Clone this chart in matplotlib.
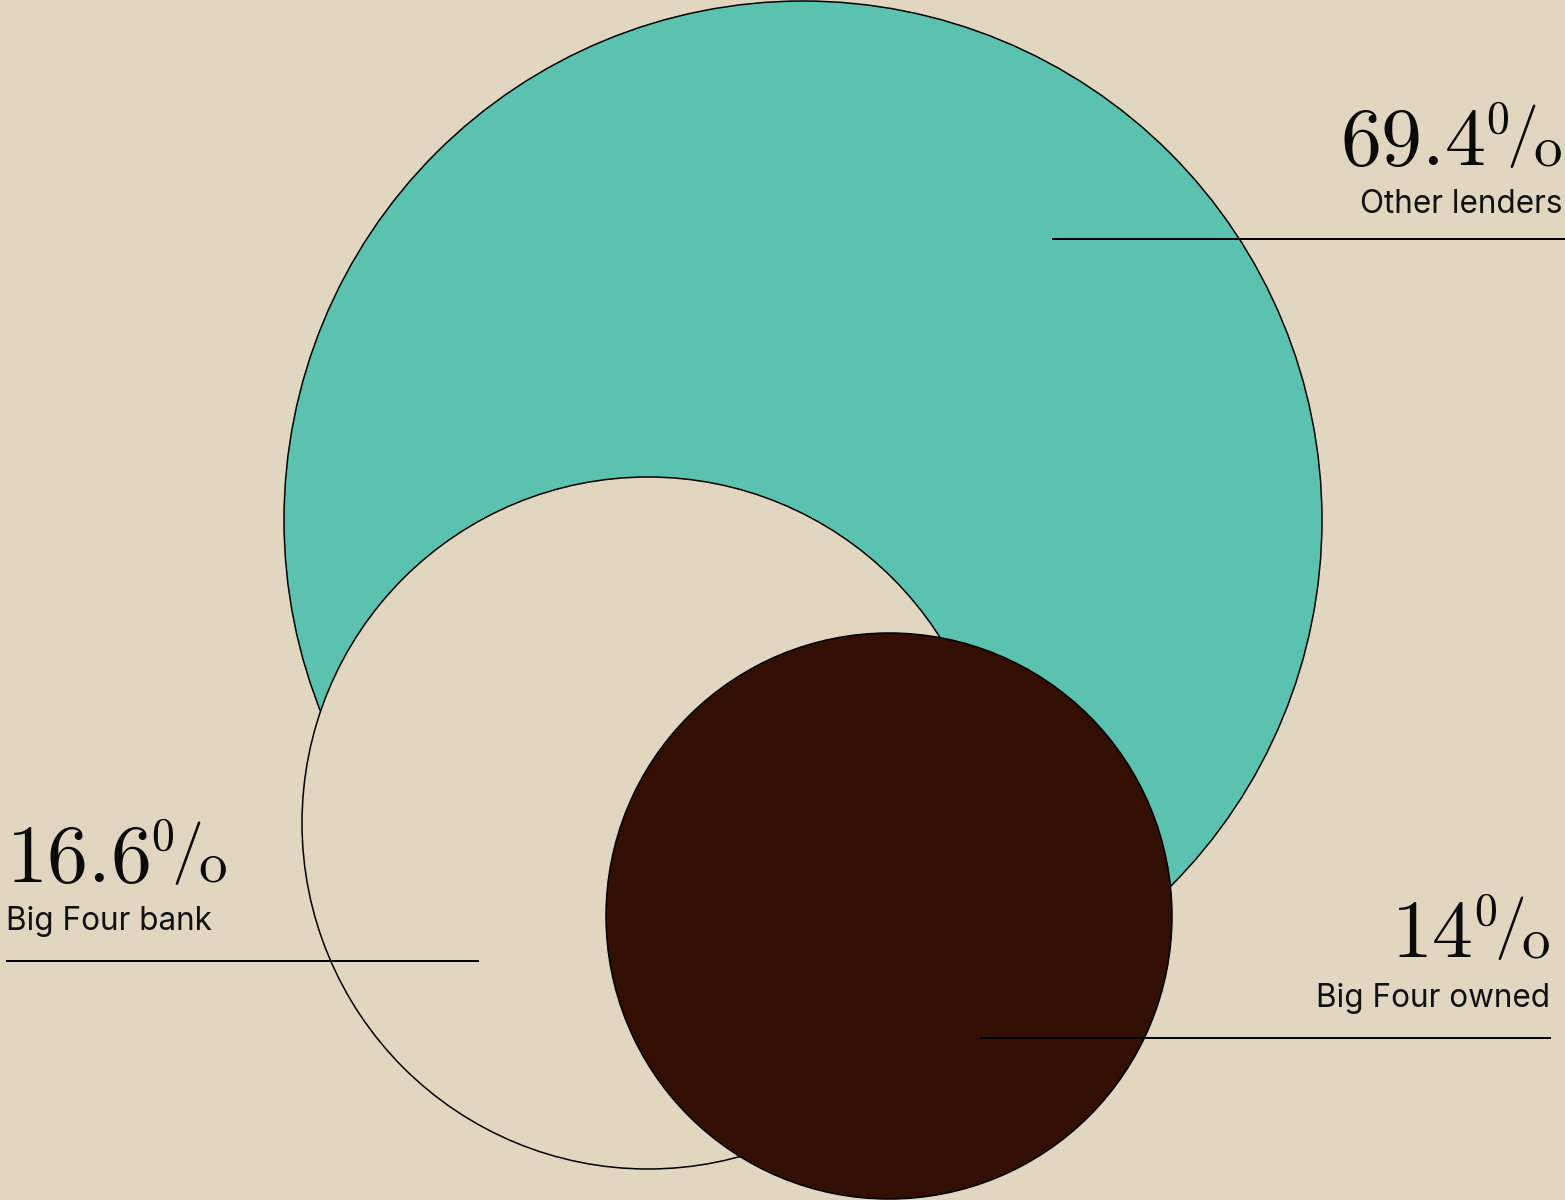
import matplotlib
matplotlib.use("Agg")
import matplotlib.pyplot as plt
from matplotlib.patches import Circle

# Data
categories = ["Other lenders", "Big Four bank", "Big Four owned"]
shares = [69.4, 16.6, 14]
value_labels = ["69.4", "16.6", "14"]

# Layout (pixel coordinates in a 1565x1200 canvas)
centers = [(803, 520), (648, 823), (889, 916)]
radii = [519, 346, 283]
fills = ["#5AC2AE", "#E1D7C1", "#330E02"]
bg = "#E1D7C1"

# label placement: (x, value baseline, label baseline, align, line x0, line x1, line y)
label_layout = [
    (1562, 165, 213, "right", 1052, 1565, 239),
    (6, 882, 930, "left", 6, 479, 961),
    (1550, 957, 1007, "right", 980, 1551, 1038),
]

plt.rcParams["mathtext.fontset"] = "cm"

fig = plt.figure(figsize=(15.65, 12), dpi=100, facecolor=bg)
ax = fig.add_axes([0, 0, 1, 1])
ax.set_facecolor(bg)
ax.set_xlim(0, 1565)
ax.set_ylim(1200, 0)
ax.set_aspect("equal")
ax.axis("off")

for i, (c, r, f) in enumerate(zip(centers, radii, fills)):
    ax.add_patch(Circle(c, r, facecolor=f, edgecolor="black", linewidth=1.1, zorder=1 + i))

fig.canvas.draw()
renderer = fig.canvas.get_renderer()
TXT = "#0a0a0a"


def draw_value(x, y, num, ha):
    # pieces: (text, fontsize, baseline offset (px, up), gap before (px))
    pieces = [
        (r"$\mathrm{" + num + "}$", 59, 0, 0),
        (r"$\mathbf{0}$", 33, 32, 1),
        (r"$/$", 46, 13, -3),
        (r"$\mathrm{o}$", 41, 0, -3),
    ]
    objs = []
    widths = []
    for t, fs, dy, gap in pieces:
        o = ax.text(0, y - dy, t, fontsize=fs, ha="left", va="baseline", color=TXT, zorder=10)
        bb = o.get_window_extent(renderer)
        objs.append(o)
        widths.append(bb.width)
    total = sum(widths) + sum(p[3] for p in pieces)
    cx = x - total if ha == "right" else x
    for o, w, p in zip(objs, widths, pieces):
        cx += p[3]
        o.set_x(cx)
        cx += w


for i, (cat, vl) in enumerate(zip(categories, value_labels)):
    x, yv, yl, ha, lx0, lx1, ly = label_layout[i]
    draw_value(x, yv, vl, ha)
    ax.text(x, yl, cat, fontsize=22.7, ha=ha, va="baseline", family="Inter",
            color="#111111", zorder=10)
    ax.plot([lx0, lx1], [ly, ly], color="black", linewidth=1.4, zorder=10,
            solid_capstyle="butt")

fig.savefig("out.png", dpi=100, facecolor=bg)
